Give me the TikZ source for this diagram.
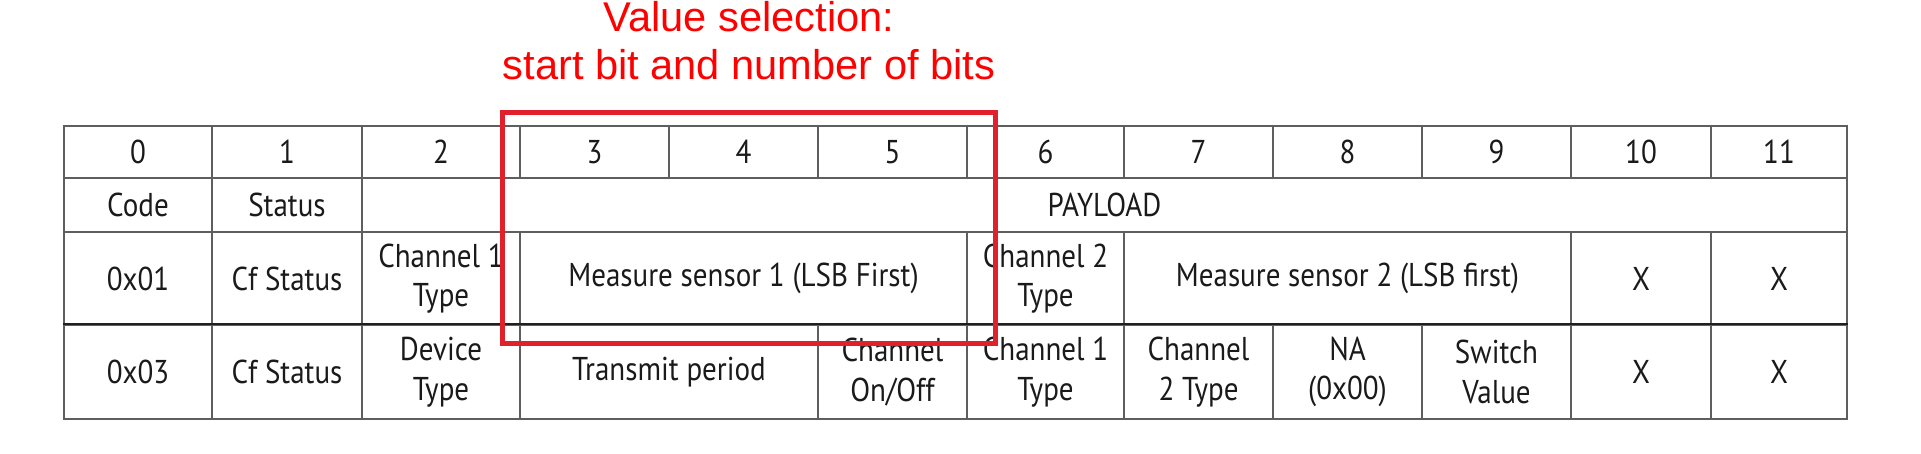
\documentclass[tikz,border=0pt]{standalone}
\usepackage{fontspec}
\setmainfont{Liberation Sans}
\newfontfamily\tabfont[FakeStretch=0.88]{PT Sans}
\definecolor{gridgray}{HTML}{5E5E5E}
\definecolor{rowline}{HTML}{202020}
\definecolor{txt}{HTML}{1A1A1A}
\definecolor{boxred}{HTML}{E0202A}
\definecolor{titlered}{HTML}{FF0000}
\tikzset{
  cellbox/.style={draw=gridgray, line width=2.4pt, inner sep=0pt, align=center,
    text=txt, font=\tabfont\fontsize{33}{39.5}\selectfont},
  titletext/.style={text=titlered, font=\fontsize{41.6}{47}\selectfont, inner sep=0pt, anchor=base},
  selbox/.style={draw=boxred, line width=5pt, inner sep=0pt}
}
\newcommand{\tcell}[6]{%
  \node[cellbox, minimum width={(#3)-(#2)}, minimum height={(#5)-(#4)}]
    (#1) at ({((#2)+(#3))/2},{((#4)+(#5))/2}) {#6};}
\begin{document}
\begin{tikzpicture}[x=1pt,y=-1pt]
\useasboundingbox (0,0) rectangle (1921,453);
% column boundaries
\def\ca{64}\def\cb{212}\def\cc{362}\def\cd{520}\def\ce{669}\def\cf{818}
\def\cg{967}\def\ch{1124}\def\ci{1273}\def\cj{1422}\def\ck{1571}\def\cl{1711}\def\cm{1847}
% row boundaries
\def\ra{126}\def\rb{178}\def\rc{232}\def\rd{325}\def\re{419}
% header row
\tcell{h0}{\ca}{\cb}{\ra}{\rb}{0}
\tcell{h1}{\cb}{\cc}{\ra}{\rb}{1}
\tcell{h2}{\cc}{\cd}{\ra}{\rb}{2}
\tcell{h3}{\cd}{\ce}{\ra}{\rb}{3}
\tcell{h4}{\ce}{\cf}{\ra}{\rb}{4}
\tcell{h5}{\cf}{\cg}{\ra}{\rb}{5}
\tcell{h6}{\cg}{\ch}{\ra}{\rb}{6}
\tcell{h7}{\ch}{\ci}{\ra}{\rb}{7}
\tcell{h8}{\ci}{\cj}{\ra}{\rb}{8}
\tcell{h9}{\cj}{\ck}{\ra}{\rb}{9}
\tcell{h10}{\ck}{\cl}{\ra}{\rb}{10}
\tcell{h11}{\cl}{\cm}{\ra}{\rb}{11}
% second row
\tcell{code}{\ca}{\cb}{\rb}{\rc}{Code}
\tcell{status}{\cb}{\cc}{\rb}{\rc}{Status}
\tcell{payload}{\cc}{\cm}{\rb}{\rc}{PAYLOAD}
% third row
\tcell{a0}{\ca}{\cb}{\rc}{\rd}{0x01}
\tcell{a1}{\cb}{\cc}{\rc}{\rd}{Cf Status}
\tcell{a2}{\cc}{\cd}{\rc}{\rd}{Channel 1\\Type}
\tcell{a3}{\cd}{\cg}{\rc}{\rd}{Measure sensor 1 (LSB First)}
\tcell{a6}{\cg}{\ch}{\rc}{\rd}{Channel 2\\Type}
\tcell{a7}{\ch}{\ck}{\rc}{\rd}{Measure sensor 2 (LSB first)}
\tcell{a10}{\ck}{\cl}{\rc}{\rd}{X}
\tcell{a11}{\cl}{\cm}{\rc}{\rd}{X}
% fourth row
\tcell{b0}{\ca}{\cb}{\rd}{\re}{0x03}
\tcell{b1}{\cb}{\cc}{\rd}{\re}{Cf Status}
\tcell{b2}{\cc}{\cd}{\rd}{\re}{Device\\Type}
\tcell{b3}{\cd}{\cf}{\rd}{\re}{Transmit period}
\tcell{b5}{\cf}{\cg}{\rd}{\re}{Channel\\On/Off}
\tcell{b6}{\cg}{\ch}{\rd}{\re}{Channel 1\\Type}
\tcell{b7}{\ch}{\ci}{\rd}{\re}{Channel\\2 Type}
\tcell{b8}{\ci}{\cj}{\rd}{\re}{NA\\(0x00)}
\tcell{b9}{\cj}{\ck}{\rd}{\re}{Switch\\Value}
\tcell{b10}{\ck}{\cl}{\rd}{\re}{X}
\tcell{b11}{\cl}{\cm}{\rd}{\re}{X}
% darker separator between the two data rows
\draw[rowline, line width=2pt] (b0.north west) -- (b11.north east);
% selection box
\node[selbox, minimum width=493, minimum height=231] (sel) at (748.5,227.5) {};
% title
\node[titletext] (t1) at (749,31) {Value selection:};
\node[titletext] (t2) at (749,79) {start bit and number of bits};
\end{tikzpicture}
\end{document}
